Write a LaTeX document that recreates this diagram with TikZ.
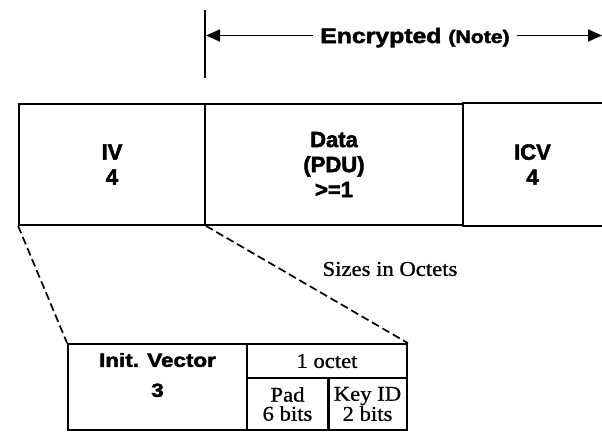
\documentclass[tikz,border=0pt]{standalone}
\usepackage{fontspec}
\setmainfont[FakeStretch=1.08,FakeBold=0.8]{Liberation Serif}
\newfontfamily\fieldfont[BoldFeatures={FakeBold=2.4}]{Liberation Sans}
\newfontfamily\widefont[FakeStretch=1.18,BoldFeatures={FakeBold=2.4}]{Liberation Sans}
\usetikzlibrary{arrows.meta}

\begin{document}
\begin{tikzpicture}[x=1pt,y=-1pt,line width=1.8pt,
  field/.style={draw,inner sep=0pt,align=center,font=\fieldfont\bfseries\fontsize{22}{25}\selectfont},
  subfield/.style={draw,inner sep=0pt,align=center,font=\fontsize{21}{19}\selectfont},
  zoomline/.style={line width=1.7pt,dash pattern=on 8pt off 4pt}]
\useasboundingbox (0,0) rectangle (602,431);
% encrypted span
\coordinate (barT) at (205,10);
\coordinate (barB) at (205,78);
\coordinate (encL) at (206,35.5);
\coordinate (encR) at (602,35.5);
\draw (barT) -- (barB);
\node[font=\widefont\bfseries\fontsize{21}{21}\selectfont,inner xsep=6pt,text height=15pt,text depth=0pt] (enc) at (415,35.5) {Encrypted {\fontsize{18}{18}\selectfont (Note)}};
\draw[-{Triangle[length=14pt,width=12pt]}] (enc.west) -- (encL);
\draw[-{Triangle[length=14pt,width=12pt]}] (enc.east) -- (encR);
% frame
\node[field,minimum width=186pt,minimum height=121pt] (iv) at (112,164.5) {IV\\4};
\node[field,minimum width=258pt,minimum height=121pt] (data) at (334,164.5) {Data\\(PDU)\\>=1};
\node[field,draw=none,minimum width=139pt,minimum height=121pt] (icv) at (532.5,164.5) {ICV\\4};
\draw (icv.north west) -- (icv.north east);
\draw (icv.south west) -- (icv.south east);
\node[font=\fontsize{21}{21}\selectfont] (sizes) at (390,269) {Sizes in Octets};
% IV detail
\node[draw,minimum width=179pt,minimum height=86pt] (ivx) at (157.5,387) {};
\node[font=\widefont\bfseries\fontsize{19}{30}\selectfont,align=center] (ivxtext) at (157.5,375) {Init. Vector\\3};
\node[subfield,minimum width=160pt,minimum height=34pt] (octet) at (327,361) {1 octet};
\node[subfield,minimum width=81pt,minimum height=52pt] (pad) at (287.5,404) {Pad\\6 bits};
\node[subfield,minimum width=79pt,minimum height=52pt] (keyid) at (367.5,404) {Key ID\\2 bits};
\draw[line width=3pt] (pad.north east) -- (pad.south east);
\draw[zoomline] (iv.south west) -- (ivx.north west);
\draw[zoomline] (iv.south east) -- (octet.north east);
\end{tikzpicture}
\end{document}
